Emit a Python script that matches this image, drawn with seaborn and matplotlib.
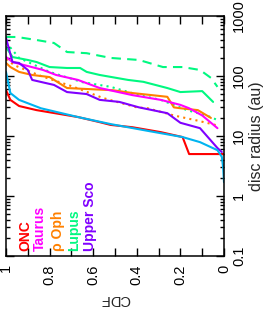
import numpy as np
import pandas as pd
import matplotlib
matplotlib.use("Agg")
import matplotlib.pyplot as plt
import matplotlib.ticker as mticker
import seaborn as sns

# CDF value / disc radius (au) for each sample
onc_cdf = [1.0, 0.98, 0.94, 0.86, 0.67, 0.57, 0.52, 0.42, 0.29, 0.19, 0.16, 0.0]
onc_r = [58, 40, 31.6, 27, 20.7, 17, 15.3, 14, 11.6, 9.6, 5.0, 5.0]

model_cdf = [1.0, 0.98, 0.94, 0.84, 0.67, 0.52, 0.34, 0.19, 0.11, 0.03, 0.01, 0.004, 0.0]
model_r = [117, 52, 40, 29, 20.7, 15.8, 12, 9.6, 7.9, 5.8, 4.5, 3.0, 1.7]

taurus_cdf = [1.0, 0.97, 0.92, 0.83, 0.77, 0.67, 0.57, 0.42, 0.29, 0.20, 0.16, 0.10, 0.03]
taurus_r = [207, 171, 153, 126, 104, 86, 63, 48, 40, 33, 29, 22, 13.5]

oph_cdf = [1.0, 0.98, 0.94, 0.88, 0.80, 0.72, 0.60, 0.51, 0.42, 0.26, 0.23, 0.20, 0.12, 0.06]
oph_r = [165, 141, 117, 104, 96, 63, 60, 58, 52, 45, 30, 29, 27, 20]

oph2_cdf = [1.0, 0.96, 0.84, 0.69, 0.555, 0.40, 0.35, 0.23, 0.12, 0.02]
oph2_r = [190, 150, 100, 66, 43, 30, 29, 22, 18, 14.7]

lupus_cdf = [1.0, 0.97, 0.90, 0.86, 0.80, 0.72, 0.66, 0.63, 0.57, 0.44, 0.37, 0.26, 0.20, 0.10, 0.05]
lupus_r = [304, 207, 185, 171, 141, 136, 136, 117, 104, 86, 80, 63, 54, 56, 37]

lupus2_cdf = [1.0, 0.97, 0.94, 0.80, 0.65, 0.52, 0.39, 0.29, 0.17, 0.08, 0.03]
lupus2_r = [360, 270, 200, 117, 79, 66, 48, 40, 27, 22, 18.5]

lupus3_cdf = [1.0, 0.95, 0.86, 0.78, 0.72, 0.63, 0.52, 0.39, 0.28, 0.19, 0.11, 0.06, 0.03]
lupus3_r = [447, 447, 398, 355, 251, 240, 200, 185, 141, 141, 126, 93, 66]

usco_cdf = [1.0, 0.97, 0.94, 0.90, 0.88, 0.78, 0.72, 0.63, 0.57, 0.48, 0.39, 0.26, 0.20, 0.11, 0.03, 0.01]
usco_r = [430, 171, 165, 126, 86, 71, 54, 50, 40, 37, 30, 24, 16.6, 13.5, 6.3, 5.4]

legend_names = ["ONC", "Taurus", "ρ Oph", "Lupus", "Upper Sco"]
legend_colors = ["#ff0000", "#ff00ff", "#ff8000", "#00f880", "#8000ff"]
x_ticks = [1, 0.8, 0.6, 0.4, 0.2, 0]
y_ticks = [0.1, 1, 10, 100, 1000]

sns.set_theme(style="ticks")
plt.rcParams['font.family'] = ['Liberation Sans', 'DejaVu Sans']

fig = plt.figure(figsize=(2.63, 3.11), dpi=100)
ax = fig.add_axes([6 / 263, 55 / 311, 218 / 263, 240 / 311])

series = [
    (onc_cdf, onc_r, "#ff0000", "-"),
    (oph2_cdf, oph2_r, "#ff8000", (0, (1, 2))),
    (lupus2_cdf, lupus2_r, "#00f880", (0, (1, 2))),
    (lupus3_cdf, lupus3_r, "#00f880", (0, (4.5, 3))),
    (lupus_cdf, lupus_r, "#00f880", "-"),
    (oph_cdf, oph_r, "#ff8000", "-"),
    (taurus_cdf, taurus_r, "#ff00ff", "-"),
    (usco_cdf, usco_r, "#8000ff", "-"),
    (model_cdf, model_r, "#00b4f0", "-"),
]
for cdf, r, col, ls in series:
    df = pd.DataFrame({"cdf": cdf, "r": r})
    sns.lineplot(data=df, x="cdf", y="r", ax=ax, color=col, linestyle=ls,
                 linewidth=1.5, sort=False, estimator=None)

ax.set_yscale("log")
ax.set_ylim(0.1, 1000)
ax.set_xlim(1, 0)

ax.set_xticks(x_ticks)
ax.set_xticklabels([f"{t:g}" for t in x_ticks])
ax.xaxis.set_minor_locator(mticker.MultipleLocator(0.1))
ax.set_yticks(y_ticks)
ax.set_yticklabels([f"{t:g}" for t in y_ticks])
ax.yaxis.set_minor_locator(mticker.LogLocator(base=10, subs=np.arange(2, 10)))
ax.yaxis.set_minor_formatter(mticker.NullFormatter())

ax.yaxis.tick_right()
ax.yaxis.set_label_position("right")
ax.tick_params(which="both", direction="in", top=True, bottom=True, left=True, right=True,
               width=1, colors="black", labelsize=10.5, pad=6)
ax.tick_params(which="major", length=6)
ax.tick_params(axis="x", which="minor", length=6)
ax.tick_params(axis="y", which="minor", length=3)
plt.setp(ax.get_xticklabels(), rotation=90, va="top", ha="center")
plt.setp(ax.get_yticklabels(), rotation=90, va="center", ha="left")

ax.set_xlabel("CDF", rotation=180, fontsize=10.5, labelpad=5)
ax.set_ylabel("disc radius (au)", rotation=90, fontsize=11.5, labelpad=2)
for s in ax.spines.values():
    s.set_linewidth(1.1)
    s.set_color("black")

xs = [0.087, 0.156, 0.239, 0.312, 0.385]
for name, col, xp in zip(legend_names, legend_colors, xs):
    ax.text(xp, 0.02, name, color=col, rotation=90, fontsize=10, fontweight="bold",
            ha="center", va="bottom", transform=ax.transAxes)

fig.savefig("out.png", dpi=100)
